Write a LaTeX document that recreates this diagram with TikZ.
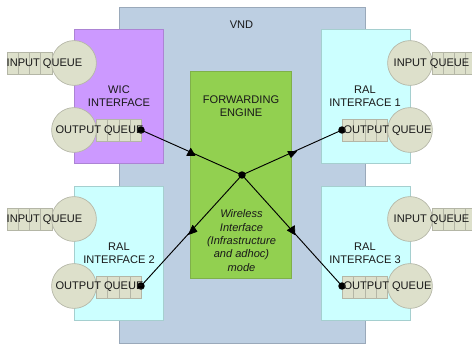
\documentclass[tikz,border=0pt]{standalone}
\usepackage{fontspec}
\setmainfont{Liberation Sans}
\definecolor{vndfill}{HTML}{BDCFE2}
\definecolor{vndline}{HTML}{9AA9BA}
\definecolor{greenfill}{HTML}{92D050}
\definecolor{greenline}{HTML}{7FB04A}
\definecolor{wicfill}{HTML}{CC99FF}
\definecolor{wicline}{HTML}{AC84D4}
\definecolor{ralfill}{HTML}{CCFFFF}
\definecolor{ralline}{HTML}{A5CFCF}
\definecolor{qfill}{HTML}{DDE0CB}
\definecolor{qline}{HTML}{B4B6A6}
\tikzset{
  x=0.75pt,y=-0.75pt,
  panel/.style={draw=#1,line width=0.6pt,inner sep=0pt,anchor=north west},
  circq/.style={circle,draw=qline,fill=qfill,line width=0.5pt,minimum size=33.6pt,inner sep=0pt},
  lbl/.style={font=\fontsize{8.3}{10}\selectfont,align=center,text=black!90,inner sep=0pt},
  dotn/.style={circle,fill=black,minimum size=5.6pt,inner sep=0pt},
  link/.style={draw=black,line width=0.7pt},
  headtri/.style={fill=black,draw=black,line width=0.5pt,line join=round}
}
\newcommand{\qcells}[2]{% left x, top y
  \foreach \k in {0,1,2,3}{
    \draw[draw=qline,fill=qfill,line width=0.5pt] ({#1+\k*11.25},#2) rectangle ({#1+\k*11.25+11.25},{#2+22});
  }}
\begin{document}
\begin{tikzpicture}
\useasboundingbox (0,0) rectangle (472,345);
\begin{scope}
\clip (0,0) rectangle (472,345);
\fill[vndfill] (119,7) rectangle (365,343);
\draw[vndline,line width=0.6pt] (119,7) rectangle (365,343);
\fill[greenfill,draw=greenline,line width=0.6pt] (190.5,71) rectangle (291.5,278);
\node[panel=wicline,fill=wicfill,minimum width=67pt,minimum height=100.5pt] (wic) at (74,29) {};
\node[panel=ralline,fill=ralfill,minimum width=67pt,minimum height=100.5pt] (ral1) at (320.5,29) {};
\node[panel=ralline,fill=ralfill,minimum width=67pt,minimum height=100.5pt] (ral2) at (74,186) {};
\node[panel=ralline,fill=ralfill,minimum width=67pt,minimum height=100.5pt] (ral3) at (320.5,186) {};
\qcells{7}{52}
\qcells{96.5}{119}
\qcells{432}{52}
\qcells{342.5}{119}
\qcells{7}{208}
\qcells{96.5}{276}
\qcells{432}{208}
\qcells{342.5}{276}
\node[circq] (c1) at (74,63) {};
\node[circq] (c2) at (74,130) {};
\node[circq] (c3) at (410,63) {};
\node[circq] (c4) at (410,130) {};
\node[circq] (c5) at (74,219) {};
\node[circq] (c6) at (74,286) {};
\node[circq] (c7) at (410,219) {};
\node[circq] (c8) at (410,286) {};
\end{scope}
\node[dotn] (hub) at (242,175) {};
\node[dotn] (d1) at (141,130) {};
\node[dotn] (d2) at (342,130) {};
\node[dotn] (d3) at (141,286) {};
\node[dotn] (d4) at (342,286) {};
\draw[link] (d1.center) -- (hub.center);
\draw[link] (d2.center) -- (hub.center);
\draw[link] (hub.center) -- (d3.center);
\draw[link] (hub.center) -- (d4.center);
\fill[headtri] (190.7,148.3) -- (186.7,155.5) -- (195,155.5) -- cycle;
\fill[headtri] (287.7,151.5) -- (296.5,151.5) -- (291,157.5) -- cycle;
\fill[headtri] (188.5,234.5) -- (192.7,225.3) -- (197,231.5) -- cycle;
\fill[headtri] (287.3,230.3) -- (294.5,225.7) -- (295,234.7) -- cycle;
\node[lbl] (tvnd) at (241.5,24.5) {VND};
\node[lbl] (tfe) at (241,106) {FORWARDING\\ENGINE};
\node[lbl,font=\fontsize{8.3}{10}\selectfont\itshape] (twl) at (241.5,240.5) {Wireless\\Interface\\(Infrastructure\\and adhoc)\\mode};
\node[lbl] (t1) at (119,96.5) {WIC\\INTERFACE};
\node[lbl] (t2) at (365,96.5) {RAL\\INTERFACE 1};
\node[lbl] (t3) at (119,253) {RAL\\INTERFACE 2};
\node[lbl] (t4) at (365,253) {RAL\\INTERFACE 3};
\node[lbl] (q1) at (44.5,63.5) {INPUT QUEUE};
\node[lbl] (q2) at (431.5,63.5) {INPUT QUEUE};
\node[lbl] (q3) at (44.5,219.5) {INPUT QUEUE};
\node[lbl] (q4) at (431.5,219.5) {INPUT QUEUE};
\node[lbl] (q5) at (99.5,130.5) {OUTPUT QUEUE};
\node[lbl] (q6) at (387.5,130.5) {OUTPUT QUEUE};
\node[lbl] (q7) at (99.5,286.5) {OUTPUT QUEUE};
\node[lbl] (q8) at (387.5,286.5) {OUTPUT QUEUE};
\end{tikzpicture}
\end{document}
